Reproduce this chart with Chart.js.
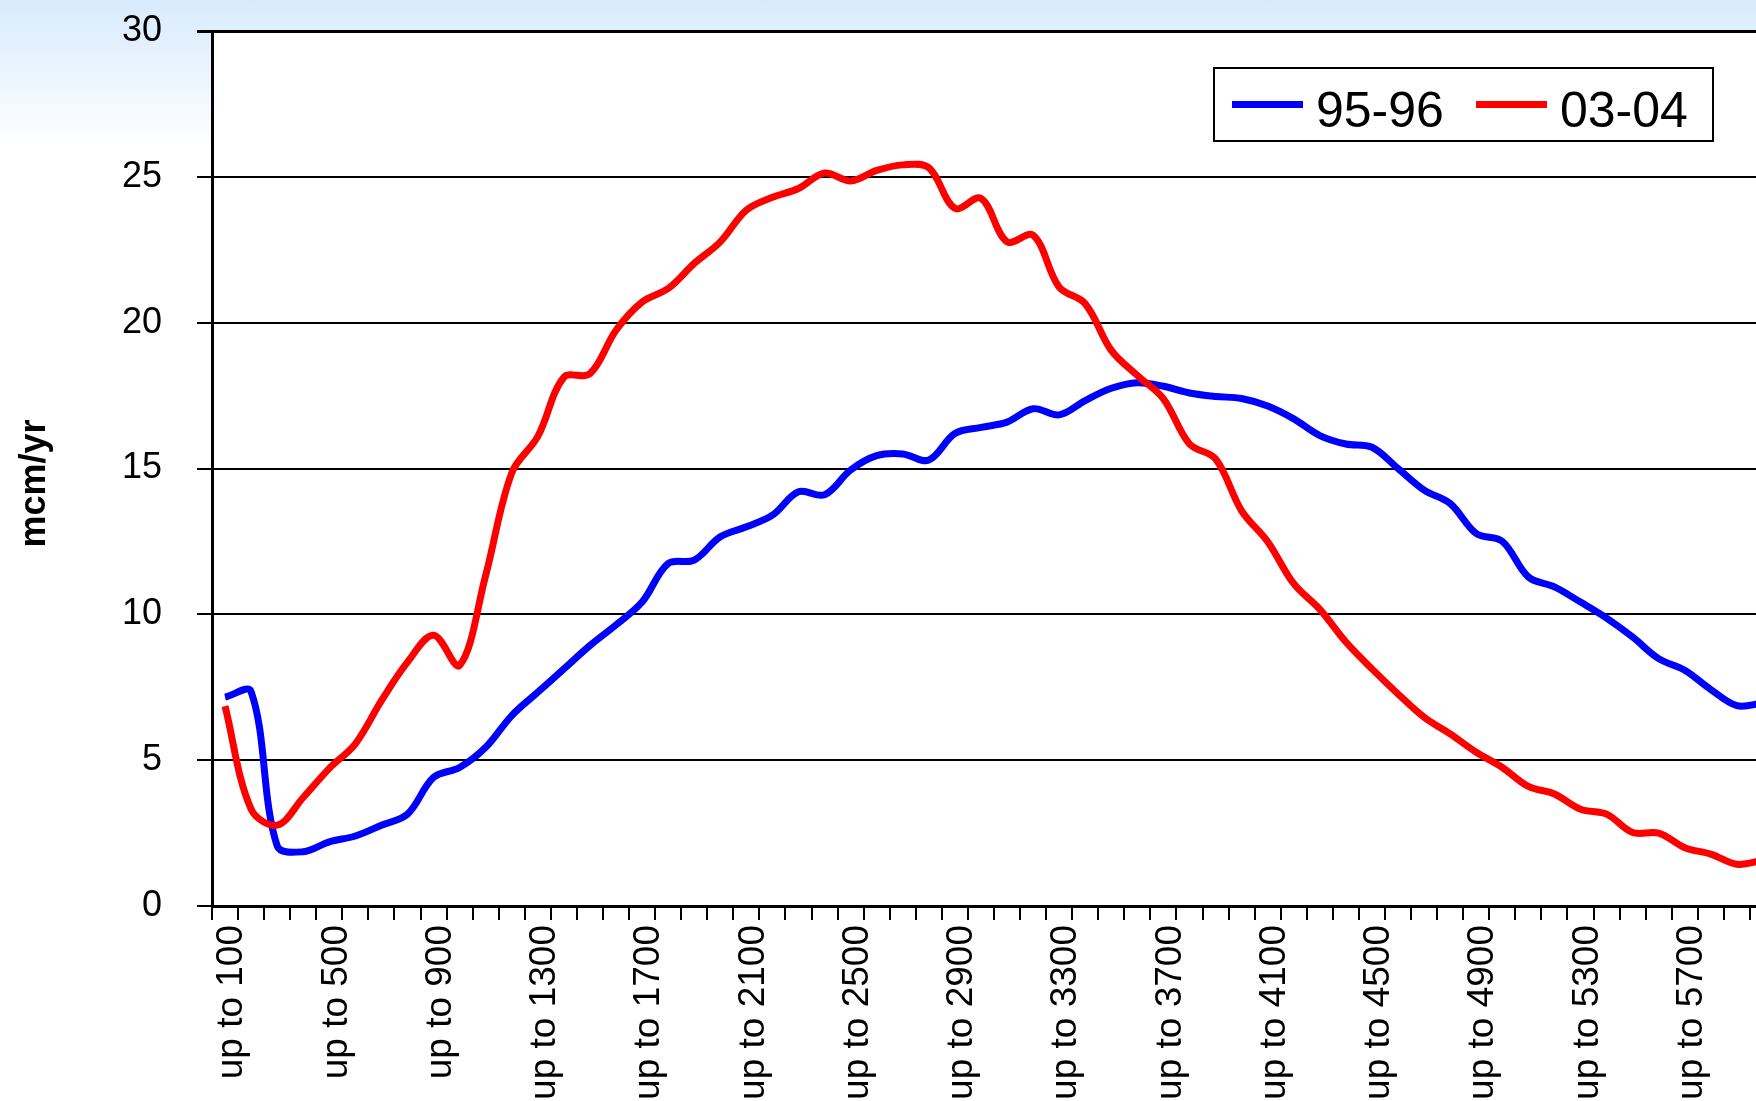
<!DOCTYPE html>
<html lang="en">
<head>
<meta charset="UTF-8">
<title>mcm/yr, 95-96 vs 03-04</title>
<style>
  body {
    margin: 0;
    overflow: hidden;
    background: linear-gradient(to bottom, #d8ebfc 0px, #ffffff 150px);
    font-family: "Liberation Sans", Arial, sans-serif;
  }

  .wrap {
    position: relative;
    width: 1776px;
    height: 1101px;
  }

  .legend {
    position: absolute;
    left: 1213px;
    top: 67px;
    width: 501px;
    height: 75px;
    box-sizing: border-box;
    border: 2px solid #000;
    background: #fff;
    display: flex;
    align-items: center;
    padding-left: 17px;
    font-size: 50px;
    color: #000;
  }

  .legend .swatch {
    display: inline-block;
    width: 71px;
    height: 7px;
  }

  .legend .txt {
    position: relative;
    top: 5px;
    margin-left: 13px;
  }
</style>
<script src="https://cdn.jsdelivr.net/npm/chart.js"></script>
</head>
<body>

<div class="wrap">
  <canvas id="chart"></canvas>
  <div class="legend">
    <span class="swatch" style="background:#0000ff"></span><span class="txt">95-96</span>
    <span class="swatch" style="background:#ff0000; margin-left:32px"></span><span class="txt">03-04</span>
  </div>
</div>

<script>
// categories (upper bound of each band)
const categories = [
  'up to 100', 'up to 200', 'up to 300', 'up to 400', 'up to 500', 'up to 600',
  'up to 700', 'up to 800', 'up to 900', 'up to 1000', 'up to 1100', 'up to 1200',
  'up to 1300', 'up to 1400', 'up to 1500', 'up to 1600', 'up to 1700', 'up to 1800',
  'up to 1900', 'up to 2000', 'up to 2100', 'up to 2200', 'up to 2300', 'up to 2400',
  'up to 2500', 'up to 2600', 'up to 2700', 'up to 2800', 'up to 2900', 'up to 3000',
  'up to 3100', 'up to 3200', 'up to 3300', 'up to 3400', 'up to 3500', 'up to 3600',
  'up to 3700', 'up to 3800', 'up to 3900', 'up to 4000', 'up to 4100', 'up to 4200',
  'up to 4300', 'up to 4400', 'up to 4500', 'up to 4600', 'up to 4700', 'up to 4800',
  'up to 4900', 'up to 5000', 'up to 5100', 'up to 5200', 'up to 5300', 'up to 5400',
  'up to 5500', 'up to 5600', 'up to 5700', 'up to 5800', 'up to 5900', 'up to 6000'
];
const labelEvery = 4;

const series9596 = [
  7.16, 7.35, 2.06, 1.86, 2.2, 2.4, 2.77, 3.15, 4.41, 4.75,
  5.44, 6.53, 7.33, 8.13, 8.93, 9.64, 10.42, 11.74, 11.86, 12.66,
  13.0, 13.4, 14.2, 14.1, 14.95, 15.44, 15.5, 15.29, 16.2, 16.41,
  16.59, 17.05, 16.84, 17.33, 17.75, 17.94, 17.82, 17.59, 17.47, 17.4,
  17.14, 16.7, 16.13, 15.84, 15.73, 15.0, 14.26, 13.8, 12.77, 12.5,
  11.28, 10.94, 10.42, 9.87, 9.22, 8.48, 8.08, 7.42, 6.87, 6.96
];

const series0304 = [
  6.85, 3.32, 2.77, 3.72, 4.72, 5.56, 7.04, 8.36, 9.28, 8.25,
  11.34, 14.85, 16.1, 18.13, 18.25, 19.74, 20.71, 21.17, 22.03, 22.77,
  23.86, 24.3, 24.6, 25.13, 24.86, 25.22, 25.41, 25.31, 23.92, 24.26,
  22.77, 23.0, 21.22, 20.65, 19.05, 18.19, 17.39, 15.84, 15.33, 13.55,
  12.49, 11.05, 10.17, 9.05, 8.13, 7.27, 6.47, 5.9, 5.27, 4.75,
  4.1, 3.84, 3.32, 3.15, 2.52, 2.5, 2.0, 1.78, 1.43, 1.57
];

const yMin = 0;
const yMax = 30;
const yStep = 5;

const fontFamily = '"Liberation Sans", Arial, sans-serif';

// white plot area over the page gradient
const plotBackground = {
  id: 'plotBackground',
  beforeDraw(chart) {
    const { ctx, chartArea } = chart;
    ctx.save();
    ctx.fillStyle = '#ffffff';
    ctx.fillRect(chartArea.left, chartArea.top, chartArea.right - chartArea.left, chartArea.bottom - chartArea.top);
    ctx.restore();
  }
};

const config = {
  type: 'line',
  data: {
    labels: categories,
    datasets: [
      {
        label: '95-96',
        data: series9596,
        borderColor: '#0000ff',
        backgroundColor: '#0000ff',
        order: 1
      },
      {
        label: '03-04',
        data: series0304,
        borderColor: '#ff0000',
        backgroundColor: '#ff0000',
        order: 0
      }
    ]
  },
  options: {
    responsive: true,
    maintainAspectRatio: false,
    animation: false,
    layout: {
      padding: { top: 31, right: 0, bottom: 0, left: 0 }
    },
    elements: {
      point: { radius: 0 },
      line: { tension: 0.35, borderWidth: 7, borderJoinStyle: 'round', fill: false }
    },
    plugins: {
      legend: { display: false },
      tooltip: { enabled: false }
    },
    scales: {
      x: {
        offset: true,
        grid: {
          offset: true,
          drawOnChartArea: false,
          drawTicks: true,
          tickLength: 14,
          color: '#000',
          lineWidth: 2
        },
        border: { display: true, color: '#000', width: 3 },
        ticks: {
          autoSkip: false,
          minRotation: 90,
          maxRotation: 90,
          padding: 5,
          labelOffset: 7,
          color: '#000',
          font: { family: fontFamily, size: 37 },
          callback: (value, index) => (index % labelEvery === 0 ? categories[index] : '')
        },
        afterFit(scale) {
          scale.height = 195;
          scale.paddingLeft = 0;
          scale.paddingRight = 0;
        }
      },
      y: {
        min: yMin,
        max: yMax,
        ticks: {
          stepSize: yStep,
          padding: 35,
          color: '#000',
          font: { family: fontFamily, size: 36 }
        },
        grid: {
          color: '#000',
          lineWidth: (ctx) => (ctx.tick && ctx.tick.value === yMax ? 3 : 2),
          tickLength: 15
        },
        border: { display: true, color: '#000', width: 3 },
        title: {
          display: true,
          // trailing spaces nudge the rotated title a little lower, as in the original
          text: 'mcm/yr\u00a0\u00a0\u00a0',
          color: '#000',
          font: { family: fontFamily, size: 36, weight: 'bold' },
          padding: { top: 13, bottom: 0 }
        },
        afterFit(scale) {
          scale.width = 212;
          scale.paddingTop = 0;
          scale.paddingBottom = 0;
        }
      }
    }
  },
  plugins: [plotBackground]
};

window.onload = function() {
  const ctx = document.getElementById('chart').getContext('2d');
  new Chart(ctx, config);
};
</script>
</body>
</html>
